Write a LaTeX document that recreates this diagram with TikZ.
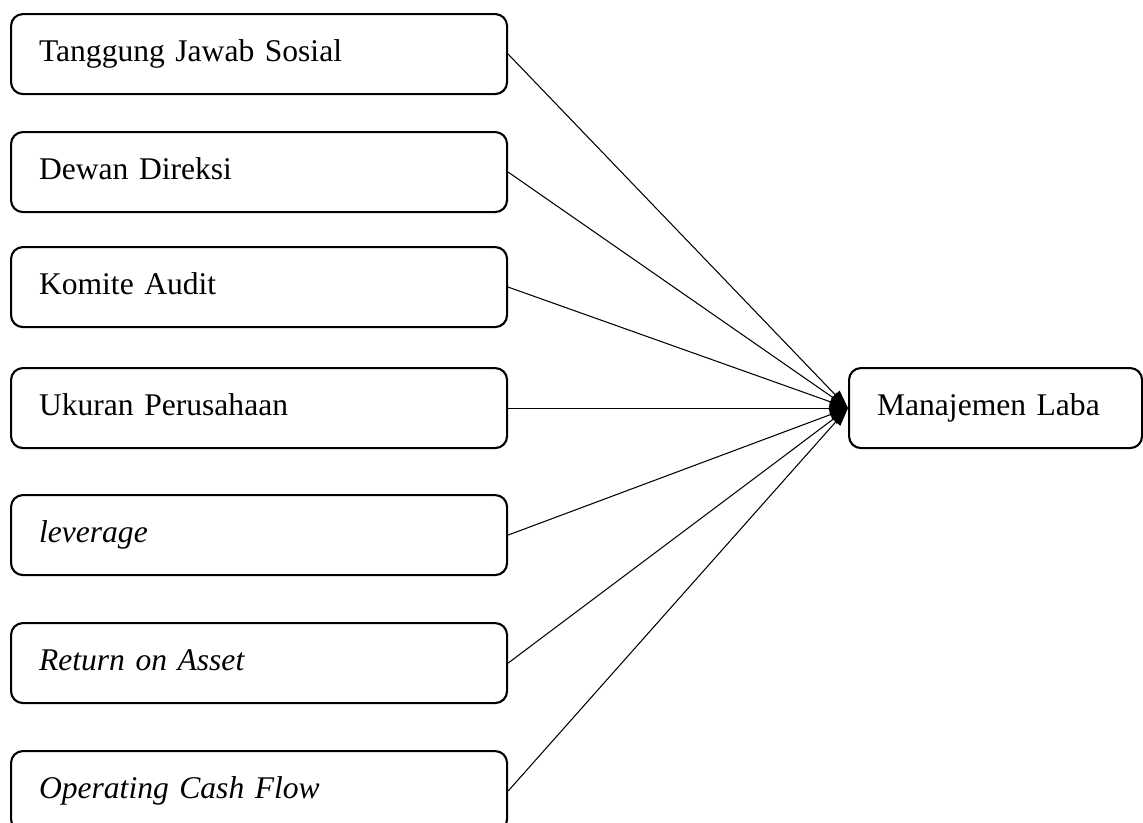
\documentclass[tikz,border=0pt]{standalone}
\usepackage{fontspec}
\setmainfont{Liberation Serif}
\usetikzlibrary{arrows.meta}
\begin{document}
\begin{tikzpicture}[x=0.38pt,y=-0.38pt,>={Triangle[length=7pt,width=4.5pt]}]

% size of one layout unit
\def\px{0.38pt}
% node style definition
\tikzstyle{var} = [
	draw, rectangle, rounded corners=4.5pt, line width=0.8pt,
	anchor=north west, align=left,
	inner xsep=28*\px, inner ysep=0pt,
	text height=8.4pt, text depth=3pt,
	minimum height=80*\px,
	font=\fontsize{12pt}{14pt}\selectfont ];
\tikzstyle{link} = [->, line width=0.4pt];

\useasboundingbox (0,0) rectangle (1143,822);

\node[var, text width=440*\px] (x1) at (10,13) { Tanggung Jawab Sosial };
\node[var, text width=440*\px] (x2) at (10,131) { Dewan Direksi };
\node[var, text width=440*\px] (x3) at (10,246) { Komite Audit };
\node[var, text width=440*\px] (x4) at (10,367) { Ukuran Perusahaan };
\node[var, text width=440*\px] (x5) at (10,494) { \textit{leverage} };
\node[var, text width=440*\px] (x6) at (10,622) { \textit{Return on Asset} };
\node[var, text width=440*\px] (x7) at (10,750) { \textit{Operating Cash Flow} };

\node[var, text width=237*\px] (y) at (848,367) { Manajemen Laba };

\draw[link] (x1.east) -- (y.west);
\draw[link] (x2.east) -- (y.west);
\draw[link] (x3.east) -- (y.west);
\draw[link] (x4.east) -- (y.west);
\draw[link] (x5.east) -- (y.west);
\draw[link] (x6.east) -- (y.west);
\draw[link] (x7.east) -- (y.west);

\end{tikzpicture}
\end{document}
